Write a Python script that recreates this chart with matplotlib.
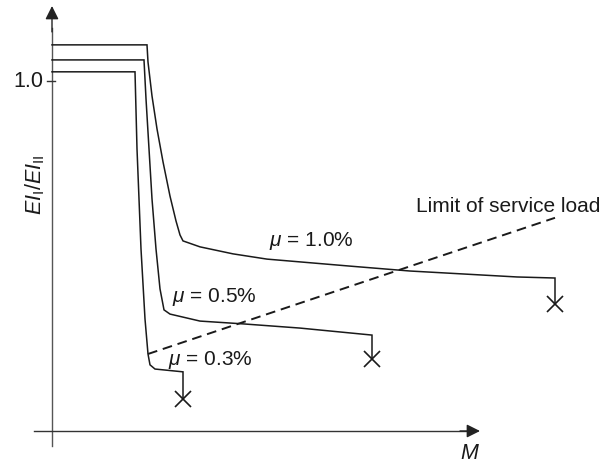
"""
Stiffness ratio EI_I/EI_II against moment M for three reinforcement ratios,
with the limit of service load drawn as a dashed line.
Output: out.png
"""

import matplotlib
matplotlib.use("Agg")
import matplotlib.pyplot as plt

plt.rcParams["font.family"] = ["Liberation Sans", "DejaVu Sans"]
plt.rcParams["mathtext.fontset"] = "custom"
plt.rcParams["mathtext.rm"] = "Liberation Sans"
plt.rcParams["mathtext.it"] = "Liberation Sans:italic"

# ── data (M in arbitrary units, stiffness ratio relative to 1.0) ──────────────
M_10 = [0.00, 0.95, 0.96, 1.00, 1.05, 1.11, 1.18, 1.24, 1.28, 1.31, 1.48, 1.81,
        2.15, 2.98, 3.58, 4.65, 5.03]
EI_10 = [1.103, 1.103, 1.054, 0.957, 0.863, 0.769, 0.671, 0.600, 0.560, 0.543,
         0.526, 0.506, 0.491, 0.471, 0.457, 0.440, 0.437]

M_05 = [0.00, 0.92, 0.94, 0.97, 1.00, 1.04, 1.08, 1.12, 1.18, 1.48, 1.91, 2.48, 3.20]
EI_05 = [1.060, 1.060, 0.949, 0.806, 0.663, 0.520, 0.406, 0.346, 0.334, 0.314,
         0.306, 0.294, 0.274]

M_03 = [0.00, 0.83, 0.85, 0.89, 0.93, 0.96, 0.98, 1.03, 1.31]
EI_03 = [1.026, 1.026, 0.806, 0.520, 0.320, 0.220, 0.189, 0.177, 0.169]

# failure points (×) below the end of each curve
M_FAIL = [5.03, 3.20, 1.31]
EI_FAIL = [0.363, 0.206, 0.091]

# limit of service load
M_SLS = [0.96, 5.03]
EI_SLS = [0.220, 0.609]

LABELS = ["$\\mu$ = 1.0%", "$\\mu$ = 0.5%", "$\\mu$ = 0.3%"]

LW = 1.1
INK = "#1a1a1a"
FS = 15

fig = plt.figure(figsize=(6.14, 4.64), dpi=100)
ax = fig.add_axes([0, 0, 1, 1])
ax.set_xlim(-0.52, 5.62)
ax.set_ylim(-0.0914, 1.234)
ax.axis("off")

# ── axes with arrows ─────────────────────────────────────────────────────────
ax.plot([0, 0], [-0.043, 1.15], color="#555555", lw=1.0)
ax.plot([-0.18, 4.15], [0, 0], color="#333333", lw=1.0)
ax.annotate("", xy=(4.28, 0), xytext=(4.08, 0),
            arrowprops=dict(arrowstyle="-|>", color="#222222", lw=1.0,
                            mutation_scale=20, shrinkA=0, shrinkB=0))
ax.annotate("", xy=(0, 1.214), xytext=(0, 1.14),
            arrowprops=dict(arrowstyle="-|>", color="#222222", lw=1.0,
                            mutation_scale=20, shrinkA=0, shrinkB=0))

# tick at 1.0
ax.plot([-0.05, 0.03], [1.0, 1.0], color="#333333", lw=1.0)
ax.text(-0.085, 1.0, "1.0", ha="right", va="center", fontsize=FS + 0.5, color=INK)

# ── curves ───────────────────────────────────────────────────────────────────
for xs, ys, xf, yf in [(M_10, EI_10, M_FAIL[0], EI_FAIL[0]),
                       (M_05, EI_05, M_FAIL[1], EI_FAIL[1]),
                       (M_03, EI_03, M_FAIL[2], EI_FAIL[2])]:
    ax.plot(xs + [xs[-1]], ys + [yf], color=INK, lw=LW, solid_joinstyle="miter")
    ax.plot([xf], [yf], marker="x", ms=11, mew=1.2, color=INK, ls="none")

ax.plot(M_SLS, EI_SLS, color=INK, lw=1.4, ls=(0, (5, 3)))

# ── labels ───────────────────────────────────────────────────────────────────
ax.text(2.17, 0.545, LABELS[0], ha="left", va="center", fontsize=FS, color=INK)
ax.text(1.20, 0.386, LABELS[1], ha="left", va="center", fontsize=FS, color=INK)
ax.text(1.16, 0.206, LABELS[2], ha="left", va="center", fontsize=FS, color=INK)
ax.text(3.64, 0.645, "Limit of service load", ha="left", va="center",
        fontsize=FS, color=INK)

ax.text(-0.17, 0.706, "$EI_{\\mathrm{I}}/EI_{\\mathrm{II}}$", rotation=90,
        ha="center", va="center", fontsize=FS + 0.5, color=INK)
ax.text(4.18, -0.06, "$M$", ha="center", va="center", fontsize=FS + 0.5, color=INK)

fig.savefig("out.png", dpi=100)
